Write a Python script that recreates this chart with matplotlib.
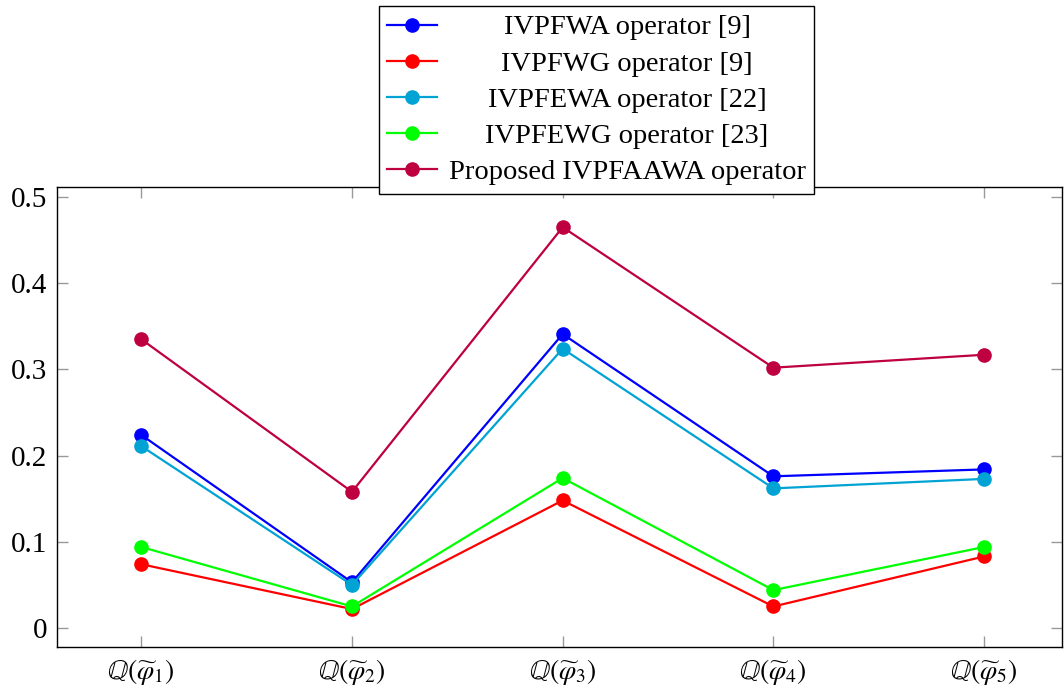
import matplotlib
matplotlib.use("Agg")
import matplotlib.pyplot as plt
from matplotlib.transforms import Bbox

plt.rcParams['font.family'] = ['Liberation Serif', 'DejaVu Serif']
plt.rcParams['mathtext.fontset'] = 'stix'

categories = [r'$\mathbb{Q}(\widetilde{\varphi}_1)$', r'$\mathbb{Q}(\widetilde{\varphi}_2)$',
              r'$\mathbb{Q}(\widetilde{\varphi}_3)$', r'$\mathbb{Q}(\widetilde{\varphi}_4)$',
              r'$\mathbb{Q}(\widetilde{\varphi}_5)$']
ivpfwa = [0.224, 0.053, 0.341, 0.176, 0.184]
ivpfwg = [0.074, 0.022, 0.148, 0.025, 0.083]
ivpfewa = [0.211, 0.050, 0.324, 0.162, 0.173]
ivpfewg = [0.094, 0.025, 0.174, 0.044, 0.094]
proposed = [0.335, 0.158, 0.465, 0.302, 0.317]

labels = ['IVPFWA operator [9]', 'IVPFWG operator [9]', 'IVPFEWA operator [22]',
          'IVPFEWG operator [23]', 'Proposed IVPFAAWA operator']
colors = ['#0000FF', '#FF0000', '#00A3D3', '#00FF00', '#BF0040']
series = [ivpfwa, ivpfwg, ivpfewa, ivpfewg, proposed]

yticks = [0, 0.1, 0.2, 0.3, 0.4, 0.5]
ytick_labels = ['0', '0.1', '0.2', '0.3', '0.4', '0.5']

W, H = 1064, 689
fig = plt.figure(figsize=(W / 100, H / 100), dpi=100)
ax = fig.add_axes([57 / W, 1 - 647 / H, (1062 - 57) / W, (647 - 187) / H])

x = list(range(1, len(categories) + 1))
handles = []
for s, c, l in zip(series, colors, labels):
    h, = ax.plot(x, s, color=c, lw=1.6, marker='o', ms=9.5, label=l)
    handles.append(h)

ax.set_xlim(0.6, 5.37)
ax.set_ylim(-0.022, 0.5116)
ax.set_xticks(x)
ax.set_xticklabels(categories, fontsize=20)
ax.set_yticks(yticks)
ax.set_yticklabels(ytick_labels, fontsize=21)
ax.tick_params(direction='in', length=8, width=1, color='#999999',
               top=True, right=True, pad=7)
for sp in ax.spines.values():
    sp.set_linewidth(1)
    sp.set_color('black')

leg = fig.legend(handles=handles, loc='upper center',
                 bbox_to_anchor=(596.5 / W, 1 - 6 / H), fontsize=20.5,
                 frameon=True, fancybox=False, edgecolor='black',
                 framealpha=1, handlelength=1.75, labelspacing=0.36,
                 borderpad=0.3, handletextpad=0.4, borderaxespad=0)
leg.get_frame().set_linewidth(1)

# center legend texts
fig.canvas.draw()
renderer = fig.canvas.get_renderer()
try:
    tas = []
    for col in leg._legend_handle_box.get_children():
        for row in col.get_children():
            ch = row.get_children()
            tas.append(ch[1])
    maxw = max(ta._text.get_window_extent(renderer).width for ta in tas)
    for ta in tas:
        ta._text.set_horizontalalignment('center')
        orig = ta.get_bbox

        def gb(renderer, orig=orig, Wd=maxw):
            bb = orig(renderer)
            return Bbox.from_bounds(-Wd / 2, bb.y0, Wd, bb.height)
        ta.get_bbox = gb
except Exception:
    pass

fig.savefig('out.png', dpi=100)
